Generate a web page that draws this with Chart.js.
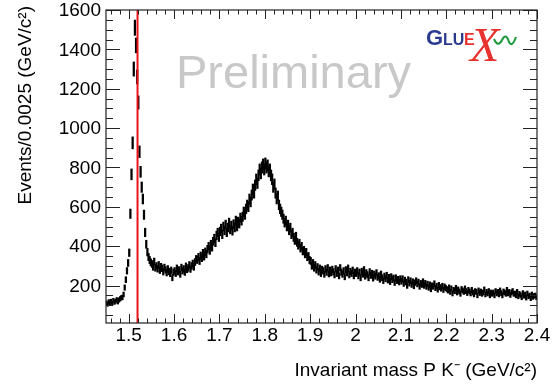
<!DOCTYPE html>
<html>
<head>
<meta charset="utf-8">
<script src="https://cdn.jsdelivr.net/npm/chart.js@4"></script>
<style>
  body { margin: 0; background: #fff; }
  canvas { display: block; }
</style>
</head>
<body>
<canvas id="massChart" width="557" height="386"></canvas>
<script>
// histogram: 0.0025 GeV bins starting at 1.45
const binStart = 1.45;
const binWidth = 0.0025;
const counts = [
  112,105,118,110,120,108,124,115,121,128,117,127,133,138,140,155,190,230,275,315,
  367,565,765,925,1300,1510,1420,1260,1130,880,778,700,640,560,470,410,370,345,330,318,
  310,295,322,290,300,285,305,278,296,288,270,292,280,265,285,272,262,278,240,268,
  275,262,288,270,280,258,292,275,285,268,298,282,290,305,284,300,312,295,320,335,
  330,345,325,352,340,365,348,372,360,385,400,378,410,395,425,440,418,455,470,445,
  475,490,460,500,480,510,470,495,520,485,505,478,512,495,530,500,525,515,545,530,
  550,575,560,590,610,600,640,625,660,690,670,710,740,720,760,790,770,800,815,790,
  820,800,810,780,790,760,740,700,715,670,640,655,610,590,575,560,540,520,530,500,
  510,480,495,460,470,445,430,450,420,405,415,390,400,375,380,360,370,345,350,330,
  325,300,315,290,305,280,295,270,288,262,282,275,258,285,268,290,260,278,265,282,
  270,255,285,262,278,250,290,268,258,275,245,280,265,288,255,272,262,278,250,268,
  262,275,250,268,240,272,258,280,248,265,255,240,270,252,262,238,258,248,265,242,
  250,232,258,240,225,248,235,252,228,242,220,245,230,238,215,240,225,232,218,235,
  222,235,210,228,218,200,230,212,225,205,220,198,215,225,208,218,195,212,205,220,
  200,212,195,208,190,205,182,200,195,210,188,198,180,202,192,185,198,178,195,188,
  182,175,190,168,185,160,178,172,188,165,180,170,158,182,175,168,185,172,162,178,
  170,160,178,165,155,172,168,150,175,162,170,158,165,180,155,168,160,172,150,165,
  158,165,150,172,160,168,155,175,162,150,170,165,158,178,160,168,152,165,172,158,
  160,150,168,145,158,152,140,162,148,155,138,160,145,150,135,155,142,148,150,140
];
const lambdaMass = 1.5195;

const xMin = 1.45, xMax = 2.4;
const yMin = 10, yMax = 1600;
const xTicks = [1.5, 1.6, 1.7, 1.8, 1.9, 2.0, 2.1, 2.2, 2.3, 2.4];
const xTickLabels = ["1.5", "1.6", "1.7", "1.8", "1.9", "2", "2.1", "2.2", "2.3", "2.4"];
const yTicks = [200, 400, 600, 800, 1000, 1200, 1400, 1600];
const xTitle = "Invariant mass P K\u207B (GeV/c\u00B2)";
const yTitle = "Events/0.0025 (GeV/c\u00B2)";

const bins = counts.map((n, i) => {
  const err = Math.sqrt(n);
  return { x: binStart + binWidth * (i + 0.5), y: [n - err, n + err] };
});

const FONT = "'Liberation Sans', Arial, Helvetica, sans-serif";

const rootStyle = {
  id: "rootStyle",
  beforeDatasetsDraw(chart) {
    const c = chart.ctx;
    c.save();
    c.fillStyle = "#c8c8c8";
    c.font = "47px " + FONT;
    c.textBaseline = "alphabetic";
    c.fillText("Preliminary", 176, 88);

    // GlueX logo
    c.fillStyle = "#2b3a8f";
    c.font = "bold 22px " + FONT;
    c.fillText("G", 426, 45);
    c.font = "bold 16px " + FONT;
    c.fillText("LU", 443, 45);
    c.fillStyle = "#e8322e";
    c.fillText("E", 464, 45);
    c.font = "italic 48px 'Liberation Serif', serif";
    c.fillText("X", 470, 61);
    c.strokeStyle = "#1a9a3a";
    c.lineWidth = 2;
    c.beginPath();
    c.moveTo(494, 39);
    c.quadraticCurveTo(498, 48, 502, 40);
    c.quadraticCurveTo(506, 32, 509, 42);
    c.quadraticCurveTo(512, 48, 516, 37);
    c.stroke();
    c.restore();
  },
  afterDatasetsDraw(chart) {
    const c = chart.ctx;
    const a = chart.chartArea;
    const xs = chart.scales.x, ys = chart.scales.y;
    c.save();
    c.strokeStyle = "#222";
    c.lineWidth = 1.2;
    c.strokeRect(a.left, a.top, a.right - a.left, a.bottom - a.top);

    c.lineWidth = 1;
    c.beginPath();
    // x ticks (major 0.1, minor 0.02), pointing inward on bottom and top
    for (let v = 1.46; v <= xMax + 1e-6; v += 0.02) {
      const px = Math.round(xs.getPixelForValue(v)) + 0.5;
      const major = xTicks.some(t => Math.abs(t - v) < 1e-6);
      const len = major ? 9 : 4.5;
      c.moveTo(px, a.bottom); c.lineTo(px, a.bottom - len);
      c.moveTo(px, a.top); c.lineTo(px, a.top + len);
    }
    // y ticks (major 200, minor 50), inward on left and right
    for (let v = 50; v <= yMax; v += 50) {
      const py = Math.round(ys.getPixelForValue(v)) + 0.5;
      const len = v % 200 === 0 ? 14 : 7;
      c.moveTo(a.left, py); c.lineTo(a.left + len, py);
      c.moveTo(a.right, py); c.lineTo(a.right - len, py);
    }
    c.stroke();

    c.fillStyle = "#000";
    c.font = "19px " + FONT;
    c.textAlign = "center";
    c.textBaseline = "alphabetic";
    xTicks.forEach((t, i) => c.fillText(xTickLabels[i], xs.getPixelForValue(t), 341));
    c.textAlign = "right";
    c.textBaseline = "middle";
    yTicks.forEach(t => c.fillText(String(t), 101, ys.getPixelForValue(t) + 1));

    c.textBaseline = "alphabetic";
    c.fillText(xTitle, a.right, 376);
    c.translate(31, 6);
    c.rotate(-Math.PI / 2);
    c.fillText(yTitle, 0, 0);
    c.restore();
  }
};

new Chart(document.getElementById("massChart").getContext("2d"), {
  type: "bar",
  data: {
    datasets: [
      {
        type: "line",
        data: [{ x: lambdaMass, y: yMin }, { x: lambdaMass, y: yMax }],
        borderColor: "#e8141a",
        borderWidth: 2,
        pointRadius: 0,
        order: 0
      },
      {
        type: "bar",
        data: bins,
        backgroundColor: "#000",
        barThickness: 1.6,
        order: 1
      }
    ]
  },
  options: {
    responsive: false,
    animation: false,
    layout: { padding: { left: 106, right: 20, top: 10, bottom: 63 } },
    scales: {
      x: { type: "linear", min: xMin, max: xMax, offset: false, display: false },
      y: { min: yMin, max: yMax, display: false }
    },
    plugins: { legend: { display: false }, tooltip: { enabled: false } }
  },
  plugins: [rootStyle]
});
</script>
</body>
</html>
